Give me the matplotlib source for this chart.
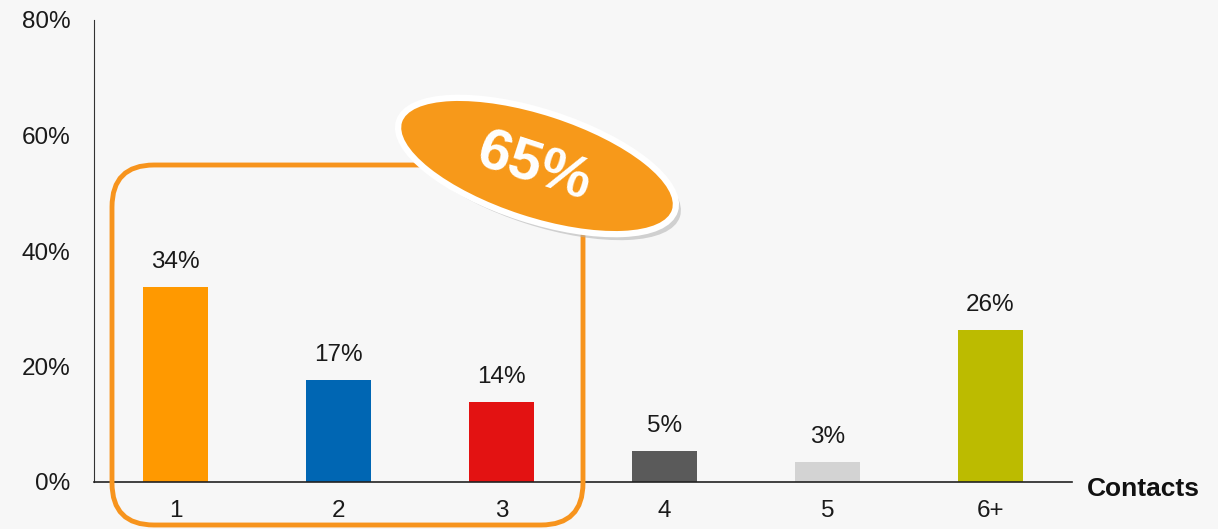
import matplotlib.pyplot as plt
from matplotlib.patches import FancyBboxPatch, Ellipse
from matplotlib.transforms import IdentityTransform

plt.rcParams['font.family'] = ['Liberation Sans', 'DejaVu Sans']

categories = ['1', '2', '3', '4', '5', '6+']
values = [33.8, 17.6, 13.9, 5.4, 3.5, 26.3]
value_labels = ['34%', '17%', '14%', '5%', '3%', '26%']
colors = ['#ff9900', '#0066b3', '#e31212', '#5a5a5a', '#d3d3d3', '#bcbb00']
y_ticks = [0, 20, 40, 60, 80]
highlight_text = '65%'

W, H = 1218, 529
bg = '#f7f7f7'
fig = plt.figure(figsize=(W / 100, H / 100), dpi=100, facecolor=bg)
ax = fig.add_axes([94 / W, 1 - 482 / H, (1072 - 94) / W, (482 - 20) / H])
ax.set_facecolor(bg)

x = range(len(categories))
bars = ax.bar(x, values, width=0.4, color=colors, zorder=2)
for b, v, lab in zip(bars, values, value_labels):
    ax.annotate(lab, (b.get_x() + b.get_width() / 2, v), xytext=(0, 10),
                textcoords='offset points', ha='center', va='bottom',
                fontsize=17.5, color='#1a1a1a')

ax.set_xlim(-0.5, 5.5)
ax.set_ylim(0, 80)
ax.set_xticks(list(x))
ax.set_xticklabels(categories)
ax.set_yticks(y_ticks)
ax.set_yticklabels([f'{t}%' for t in y_ticks])
ax.tick_params(axis='both', length=0, labelsize=17.5, colors='#1a1a1a')
ax.tick_params(axis='x', pad=13)
ax.tick_params(axis='y', pad=17)
for s in ['top', 'right']:
    ax.spines[s].set_visible(False)
ax.spines['left'].set_color('#333333')
ax.spines['bottom'].set_color('#222222')
ax.spines['left'].set_linewidth(0.8)
ax.spines['bottom'].set_linewidth(1.2)

fig.text(1087 / W, 1 - 489 / H, 'Contacts', fontsize=19, fontweight='bold',
         ha='left', va='center', color='#111111')

# highlight frame around the first three bars (pixel coords)
px = IdentityTransform()
frame = FancyBboxPatch((112, H - 525), 583 - 112, 525 - 165,
                       boxstyle='round,pad=0,rounding_size=42',
                       fill=False, edgecolor='#f7941d', linewidth=3.5,
                       transform=px, clip_on=False, zorder=3)
fig.add_artist(frame)

cx, cy = 537, H - 166
shadow = Ellipse((cx + 5, cy - 6), 290, 108, angle=-18, facecolor='#b0b0b0',
                 edgecolor='none', alpha=0.55, transform=px, zorder=4)
fig.add_artist(shadow)
oval = Ellipse((cx, cy), 290, 108, angle=-18, facecolor='#f7991a',
               edgecolor='white', linewidth=4.5, transform=px, zorder=5)
fig.add_artist(oval)
fig.text(534 / W, 1 - 168 / H, highlight_text, fontsize=42, fontweight='bold',
         color='white', ha='center', va='center', rotation=-18,
         rotation_mode='anchor', zorder=6)

fig.savefig('out.png', dpi=100, facecolor=bg)
